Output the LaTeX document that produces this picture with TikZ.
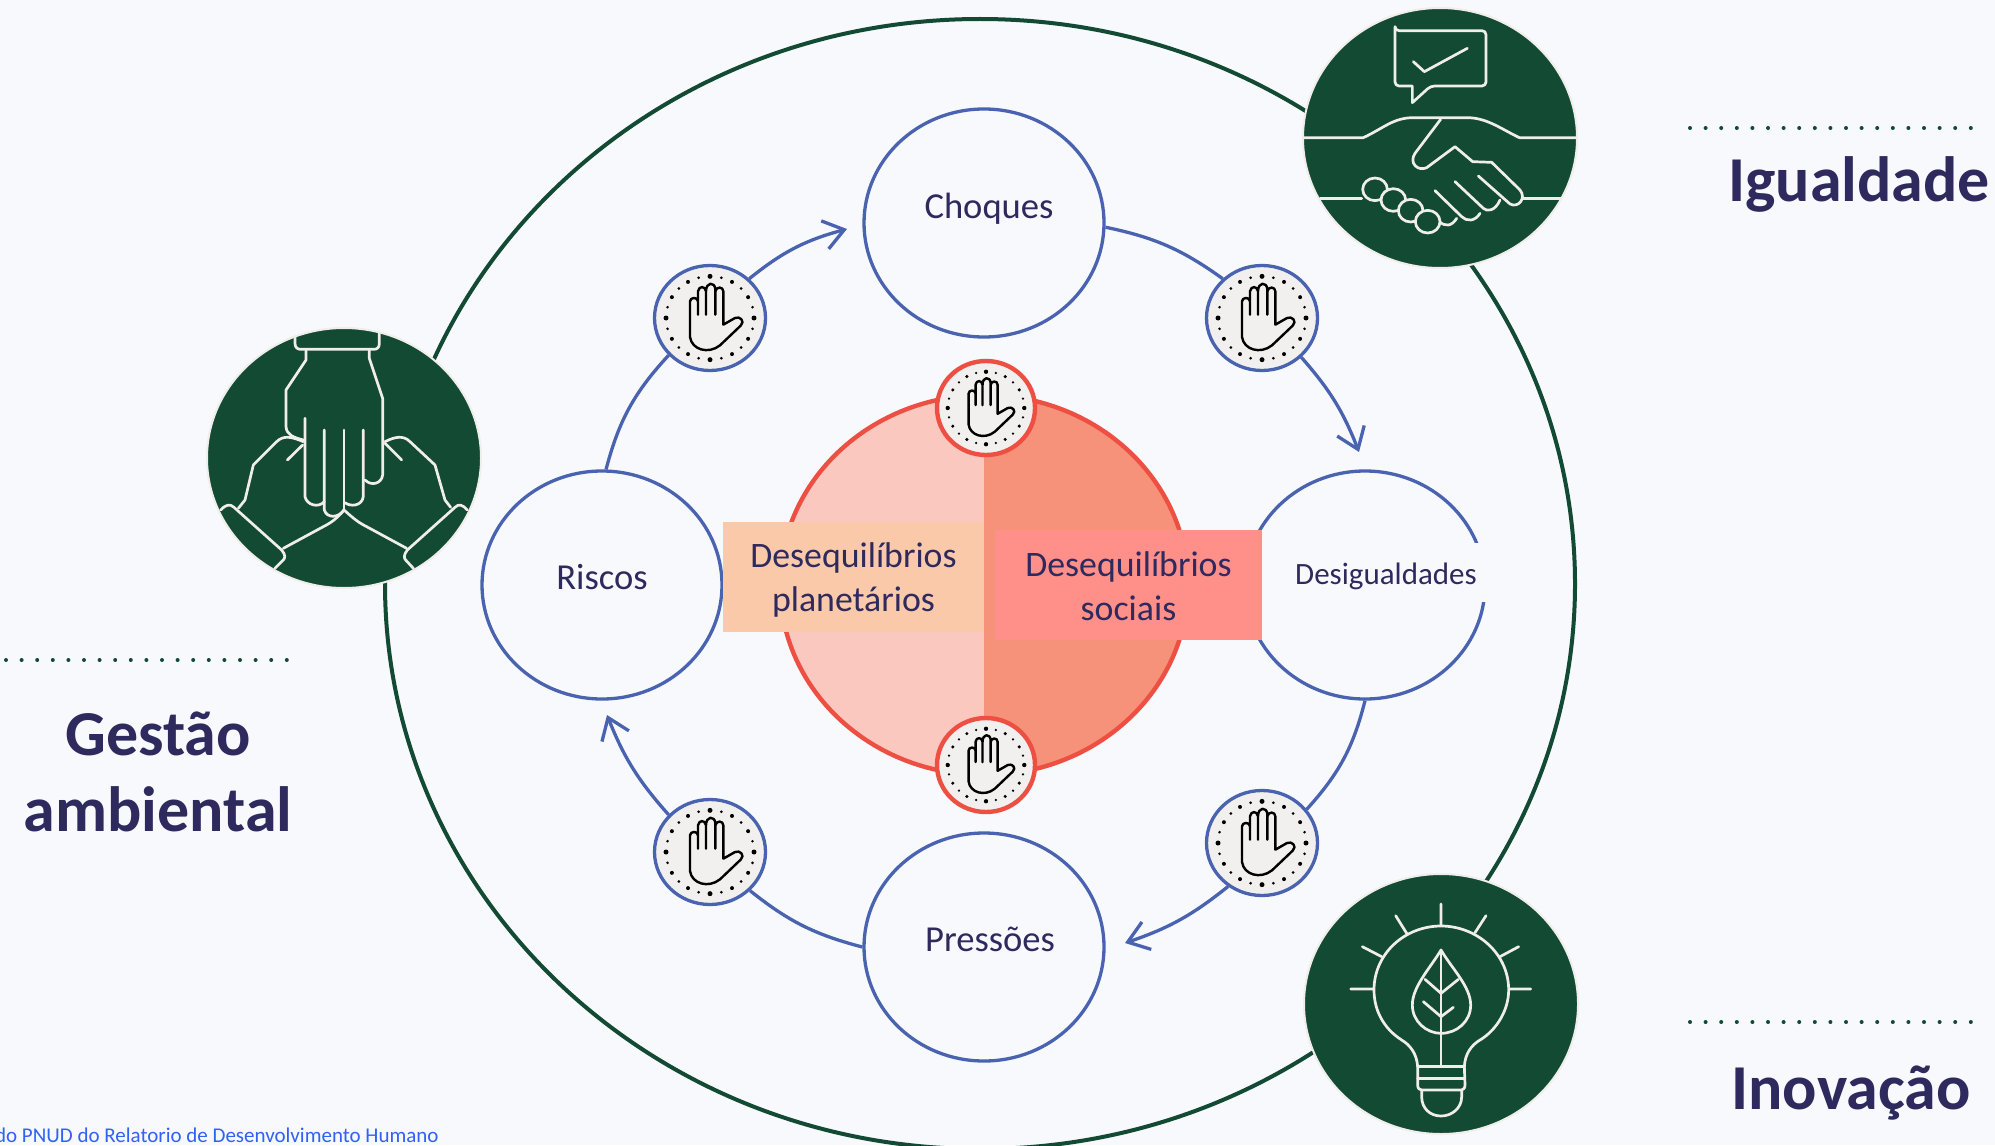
\documentclass[tikz,border=0pt]{standalone}
\usepackage{fontspec}
\setmainfont{Carlito}
\usetikzlibrary{shapes.geometric,arrows.meta}
\definecolor{bgc}{HTML}{F7F9FD}
\definecolor{deep}{HTML}{134A34}
\definecolor{iconl}{HTML}{F0EEEA}
\definecolor{blueln}{HTML}{4A63B0}
\definecolor{redln}{HTML}{EE4F43}
\definecolor{inkc}{HTML}{2E2A5E}
\definecolor{halfa}{HTML}{FAC8BE}
\definecolor{halfb}{HTML}{F6917A}
\definecolor{lblA}{HTML}{F9C9AA}
\definecolor{lblB}{HTML}{FF8F89}
\definecolor{badgef}{HTML}{F1F0EE}
\definecolor{notec}{HTML}{2F62F5}
\tikzset{
  x=0.5pt,y=-0.5pt,
  stage/.style={ellipse,draw=blueln,line width=1.65pt,minimum width=120pt,minimum height=114pt,inner sep=0pt},
  badgeb/.style={ellipse,draw=blueln,line width=1.65pt,fill=badgef,minimum width=55.5pt,minimum height=52.5pt,inner sep=0pt},
  badger/.style={ellipse,draw=redln,line width=2.2pt,fill=badgef,minimum width=49pt,minimum height=47pt,inner sep=0pt},
  greenc/.style={ellipse,draw=iconl,line width=1pt,fill=deep,minimum width=137pt,minimum height=130pt,inner sep=0pt},
  conn/.style={draw=blueln,line width=1.65pt},
  arr/.style={conn,-{Straight Barb[length=10pt,width=14.5pt,line width=1.65pt]}},
  stagetxt/.style={text=inkc,font=\fontsize{18.3}{22}\selectfont,inner sep=0pt},
  lbltxt/.style={text=inkc,font=\fontsize{17.9}{22}\selectfont,align=center,inner sep=0pt},
  headtxt/.style={text=inkc,font=\fontsize{32}{38}\selectfont\bfseries,align=center,inner sep=0pt},
  icon/.style={draw=iconl,line width=1.35pt,line cap=round,line join=round},
  dotsl/.style={draw=deep,line width=2pt,line cap=round,dash pattern=on 0pt off 7.8pt},
  hand/.pic={
    \begin{scope}[shift={(-210,-205)}]
      \draw[black,line width=1.2pt,line cap=round,line join=round]
        (174,195) -- (174,125) .. controls (176,108) and (196,108) .. (198,125) -- (198,195)
        (198,125) .. controls (198,96) and (224,96) .. (226,118) -- (226,195)
        (226,125) .. controls (228,110) and (250,110) .. (250,125) -- (250,225) -- (285,205)
          .. controls (300,198) and (316,215) .. (302,228) -- (240,287)
          .. controls (205,315) and (155,300) .. (150,262) -- (150,155)
          .. controls (150,143) and (172,140) .. (174,155);
    \end{scope}
    \foreach \a in {0,90,180,270} \fill[black] ({132*cos(\a)},{125*sin(\a)}) circle[radius=7.5];
    \foreach \a in {30,60,120,150,210,240,300,330} \fill[black] ({132*cos(\a)},{125*sin(\a)}) circle[radius=6];
    \foreach \a in {15,45,75,105,135,165,195,225,255,285,315,345} \fill[black] ({132*cos(\a)},{125*sin(\a)}) circle[radius=4.4];
  }
}
\begin{document}
\begin{tikzpicture}
\useasboundingbox (0,0) rectangle (1995,1145);
\fill[bgc] (0,0) rectangle (1995,1145);
% outer ring
\node[ellipse,draw=deep,line width=2pt,minimum width=595pt,minimum height=565pt,inner sep=0pt] (ring) at (980,584) {};
% centre disc
\begin{scope}
  \clip (700,380) rectangle (984,790);
  \fill[halfa] (984,585) ellipse[x radius=204,y radius=190];
\end{scope}
\begin{scope}
  \clip (984,380) rectangle (1260,790);
  \fill[halfb] (984,585) ellipse[x radius=204,y radius=190];
\end{scope}
\node[ellipse,draw=redln,line width=2.2pt,minimum width=204pt,minimum height=190pt,inner sep=0pt] (core) at (984,585) {};
% stages
\node[stage] (choques) at (984,223) {};
\node[stage] (riscos) at (602,585) {};
\node[stage] (desig) at (1365,585) {};
\node[stage] (press) at (984,947) {};
\fill[bgc] (1410,543) rectangle (1495,602);
% badges
\node[badgeb] (tlb) at (710,318) {};
\node[badgeb] (trb) at (1262,318) {};
\node[badgeb] (brb) at (1262,843) {};
\node[badgeb] (blb) at (710,852) {};
\node[badger] (topb) at (986,408) {};
\node[badger] (botb) at (986,765) {};
\pic[scale=0.3333] at (tlb) {hand};
\pic[scale=0.3333] at (trb) {hand};
\pic[scale=0.3333] at (brb) {hand};
\pic[scale=0.3333] at (blb) {hand};
\pic[scale=0.29] at (topb) {hand};
\pic[scale=0.29] at (botb) {hand};
% connector ends
\coordinate (tipa) at (847,229);
\coordinate (tipb) at (1359,452);
\coordinate (tipc) at (1125,943);
\coordinate (tipd) at (607,715);
\draw[conn] (riscos.88) to[bend left=14] (tlb.222);
\draw[arr] (tlb.45) to[bend left=12] (tipa);
\draw[conn] (choques.-2) to[bend left=12] (trb.135);
\draw[arr] (trb.-45) to[bend left=10] (tipb);
\draw[conn] (desig.-90) to[bend left=14] (brb.37);
\draw[arr] (brb.232) to[bend left=10] (tipc);
\draw[conn] (press.180) to[bend left=12] (blb.-44);
\draw[arr] (blb.138) to[bend left=10] (tipd);
% labels
\node[fill=lblA,minimum width=130.5pt,minimum height=55pt,inner sep=0pt] (planetbox) at (853.5,577) {};
\node[fill=lblB,minimum width=133.5pt,minimum height=55pt,inner sep=0pt] (socialbox) at (1128.5,585) {};
\node[lbltxt] (planet) at (853.5,580) {Desequilíbrios\\planetários};
\node[lbltxt] (social) at (1128.5,586) {Desequilíbrios\\sociais};
\node[stagetxt] (tchoques) at (989,209) {Choques};
\node[stagetxt] (triscos) at (602,577) {Riscos};
\node[stagetxt] (tpress) at (990,939) {Pressões};
\node[stagetxt,font=\fontsize{15.5}{20}\selectfont] (tdesig) at (1386,576) {Desigualdades};
\node[headtxt] (higual) at (1859,184) {Igualdade};
\node[headtxt] (hgest) at (158,772) {Gestão\\[0pt]ambiental};
\node[headtxt] (hinov) at (1851,1093) {Inovação};
\node[text=notec,font=\fontsize{10.5}{12}\selectfont,anchor=base east,inner sep=0pt] (note) at (439,1142) {do PNUD do Relatorio de Desenvolvimento Humano};
% dotted rules
\coordinate (da) at (1690,128); \coordinate (db) at (1975,128);
\coordinate (dc) at (6,660); \coordinate (dd) at (292,660);
\coordinate (de) at (1690,1022); \coordinate (df) at (1975,1022);
\draw[dotsl] (da) -- (db);
\draw[dotsl] (dc) -- (dd);
\draw[dotsl] (de) -- (df);
% handshake
\node[greenc] (gtop) at (1440,138) {};
\begin{scope}[shift={(1280,0)},scale=1/3]
  \draw[icon] (345,92) [rounded corners=2pt] -- (345,92) -- (618,92) -- (618,258) -- (452,258) [sharp corners] -- (397,308) -- (397,258) [rounded corners=2pt] -- (345,258) -- cycle;
  \draw[icon] (400,185) -- (433,215) -- (562,145);
  \draw[icon] (72,413) -- (250,413) .. controls (310,385) and (340,353) .. (400,353) -- (560,353) .. controls (620,353) and (660,385) .. (718,413) -- (890,413);
  \draw[icon] (482,358) -- (405,460) .. controls (385,490) and (415,515) .. (440,503) -- (525,440) -- (578,485) -- (635,487) -- (720,570) .. controls (740,595) and (715,625) .. (690,612) -- (595,528);
  \draw[icon] (660,600) .. controls (645,635) and (620,635) .. (610,625) -- (525,545);
  \draw[icon] (600,640) .. controls (585,665) and (560,665) .. (545,650) -- (465,572);
  \draw[icon] (530,655) .. controls (515,680) and (495,680) .. (478,665);
  \draw[icon] (120,595) -- (245,595) (730,595) -- (845,595);
  \foreach \p in {(285,568),(340,600),(392,632),(443,665)}
    \filldraw[icon,fill=deep] \p ellipse[x radius=37,y radius=34];
\end{scope}
% joined hands
\node[greenc] (gleft) at (344,458) {};
\begin{scope}[shift={(190,320)},scale=1/3]
  \draw[icon] (315,50) -- (315,70) .. controls (315,82) and (322,88) .. (332,88) -- (552,88) .. controls (562,88) and (568,82) .. (568,70) -- (568,40);
  \draw[icon] (348,92) -- (348,120) -- (288,210) -- (288,320) .. controls (290,345) and (310,352) .. (340,360);
  \draw[icon] (538,92) -- (538,115) -- (578,235) -- (578,465) .. controls (575,490) and (545,500) .. (525,480);
  \draw[icon] (345,295) -- (345,530) .. controls (350,555) and (385,565) .. (403,545);
  \draw[icon] (403,330) -- (403,570) .. controls (410,595) and (445,595) .. (462,570);
  \draw[icon] (462,330) -- (462,570);
  \draw[icon] (465,548) .. controls (480,560) and (515,560) .. (520,530) -- (520,330);
  \draw[icon] (292,420) -- (338,375);
  \draw[icon] (340,365) .. controls (305,350) and (280,345) .. (260,365) -- (190,435) -- (165,540) -- (145,565);
  \draw[icon] (92,570) .. controls (105,555) and (120,550) .. (132,562) -- (275,690) .. controls (288,705) and (285,715) .. (280,720) -- (255,745);
  \draw[icon] (280,685) -- (400,620) .. controls (430,605) and (445,590) .. (462,570);
  \draw[icon] (635,420) -- (585,370);
  \draw[icon] (585,365) .. controls (615,350) and (640,345) .. (660,365) -- (735,435) -- (765,540) -- (782,562);
  \draw[icon] (832,570) .. controls (820,555) and (805,550) .. (795,562) -- (652,690) .. controls (640,705) and (642,715) .. (647,720) -- (670,745);
  \draw[icon] (650,685) -- (530,620) .. controls (500,605) and (485,590) .. (462,570);
\end{scope}
% light bulb
\node[greenc] (gbot) at (1441,1004) {};
\begin{scope}[shift={(1280,860)},scale=1/3]
  \draw[icon] (483,132) -- (483,195) (347,167) -- (380,220) (618,167) -- (585,218) (247,260) -- (305,290) (716,260) -- (660,290) (212,387) -- (278,387) (690,387) -- (752,387);
  \draw[icon] (413,620) .. controls (410,580) and (390,555) .. (365,540) .. controls (310,505) and (282,450) .. (282,390) .. controls (282,280) and (375,198) .. (483,198) .. controls (590,198) and (686,280) .. (686,390) .. controls (686,450) and (650,510) .. (600,540) .. controls (575,555) and (555,580) .. (553,620);
  \draw[icon] (413,620) -- (553,620) (413,655) -- (553,655);
  \draw[icon] (413,620) -- (413,675) .. controls (413,685) and (418,690) .. (425,690) -- (540,690) .. controls (550,690) and (555,685) .. (555,675) -- (553,620);
  \draw[icon] (425,692) -- (425,710) .. controls (425,745) and (450,768) .. (483,768) .. controls (515,768) and (545,745) .. (545,710) -- (545,692);
  \draw[icon] (483,270) -- (483,618);
  \draw[icon] (483,270) .. controls (450,325) and (397,380) .. (397,435) .. controls (397,485) and (440,520) .. (483,520) .. controls (530,520) and (572,485) .. (572,435) .. controls (572,380) and (515,325) .. (483,270) -- cycle;
  \draw[icon] (435,358) -- (483,400) -- (535,358) (430,425) -- (483,470) -- (520,442);
\end{scope}
\end{tikzpicture}
\end{document}
